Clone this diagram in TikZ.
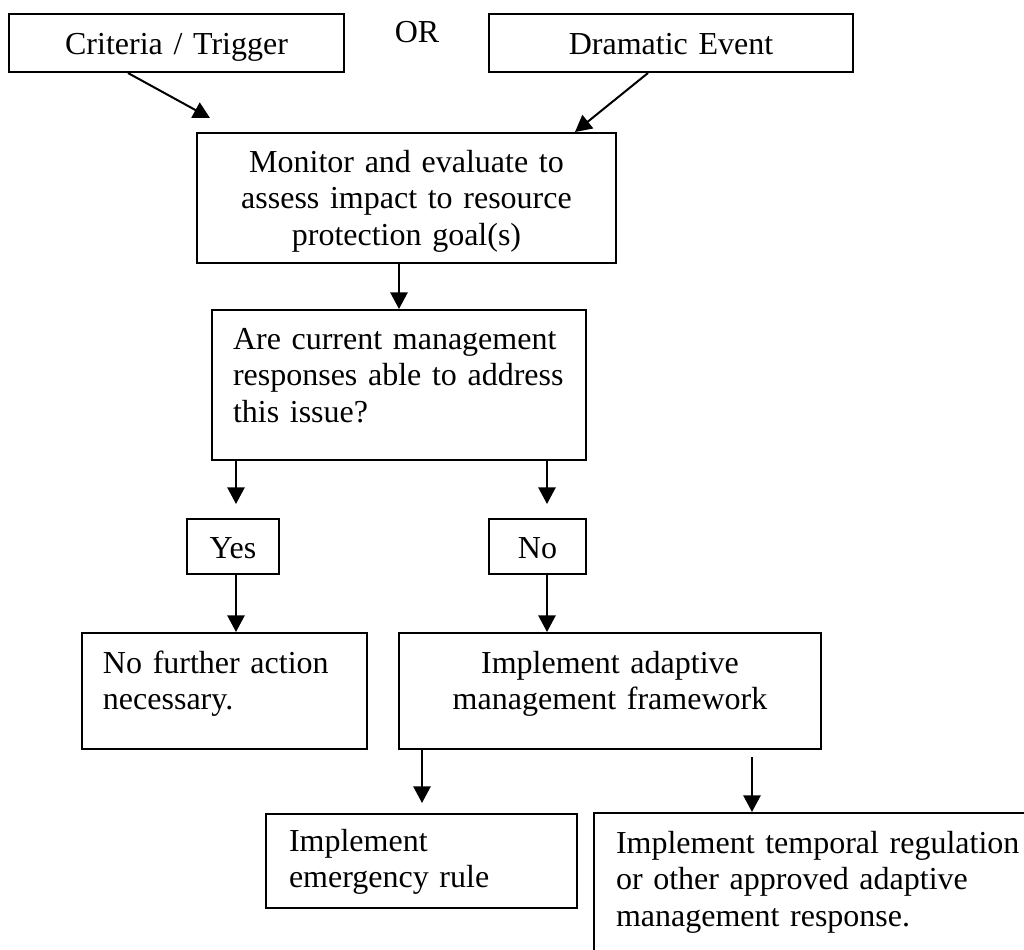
\documentclass[tikz,border=0pt]{standalone}
\usepackage{fontspec}
\setmainfont{Liberation Serif}
\usetikzlibrary{arrows.meta,positioning}
\tikzset{
  basic/.style  = {draw, line width=0.75pt, rectangle, anchor=north west, inner ysep=0pt,
                   font=\fontsize{12}{13.7}\selectfont},
  box mid/.style = {basic, align=center, inner xsep=0pt},
  box left/.style = {basic, align=left, inner xsep=7.875pt},
  link/.style = {line width=0.75pt, -{Triangle[length=6.2pt,width=6.4pt]}}
}

\begin{document}
\begin{tikzpicture}[x=0.375pt,y=-0.375pt]
\useasboundingbox (0,0) rectangle (1024,949);
\node[box mid, text width=125.625pt, text height=15pt, text depth=6.75pt] (crit) at (8,13) {Criteria / Trigger};
\node[font=\fontsize{12}{13.7}\selectfont] (or) at (417,32.5) {OR};
\node[box mid, text width=136.5pt, text height=15pt, text depth=6.75pt] (dram) at (488,13) {Dramatic Event};
\node[box mid, text width=157.125pt, text height=14.625pt, text depth=34.125pt] (mon) at (196,132)
  {Monitor and evaluate to\\assess impact to resource\\protection goal(s)};
\node[box left, text width=124.5pt, text height=14.625pt, text depth=41.625pt] (are) at (211,309)
  {Are current management\\responses able to address\\this issue?};
\node[box mid, text width=34.5pt, text height=14.625pt, text depth=6pt] (yes) at (186,518) {Yes};
\node[box mid, text width=36.375pt, text height=14.625pt, text depth=6pt] (no) at (488,518) {No};
\node[box left, text width=91.125pt, text height=15pt, text depth=28.5pt] (nofur) at (81,632)
  {No further action\\necessary.};
\node[box mid, text width=158.25pt, text height=15pt, text depth=28.5pt] (impl) at (398,632)
  {Implement adaptive\\management framework};
\node[box left, inner xsep=8.625pt, text width=99.375pt, text height=13.875pt, text depth=21.375pt] (emerg) at (265,813)
  {Implement\\emergency rule};
\node[box left, inner xsep=8.25pt, text width=163.5pt, text height=15pt, text depth=52.5pt] (temp) at (593,812)
  {Implement temporal regulation\\or other approved adaptive\\management response.};

\draw[link] ([shift={(120,0)}]crit.south west) -- ([shift={(14,-14)}]mon.north west);
\draw[link] ([shift={(160,0)}]dram.south west) -- ([shift={(-42,0)}]mon.north east);
\draw[link] (are.north |- mon.south) -- (are.north);
\draw[link] ([shift={(25,0)}]are.south west) -- ([shift={(25,-14)}]are.south west |- yes.north);
\draw[link] ([shift={(-40,0)}]are.south east) -- ([shift={(-40,-14)}]are.south east |- no.north);
\draw[link] ([shift={(25,0)}]are.south west |- yes.south) -- ([shift={(25,0)}]are.south west |- nofur.north);
\draw[link] ([shift={(-40,0)}]are.south east |- no.south) -- ([shift={(-40,0)}]are.south east |- impl.north);
\draw[link] ([shift={(24,0)}]impl.south west) -- ([shift={(24,-10)}]impl.south west |- emerg.north);
\draw[link] ([shift={(354,7)}]impl.south west) -- ([shift={(354,0)}]impl.south west |- temp.north);
\end{tikzpicture}
\end{document}
